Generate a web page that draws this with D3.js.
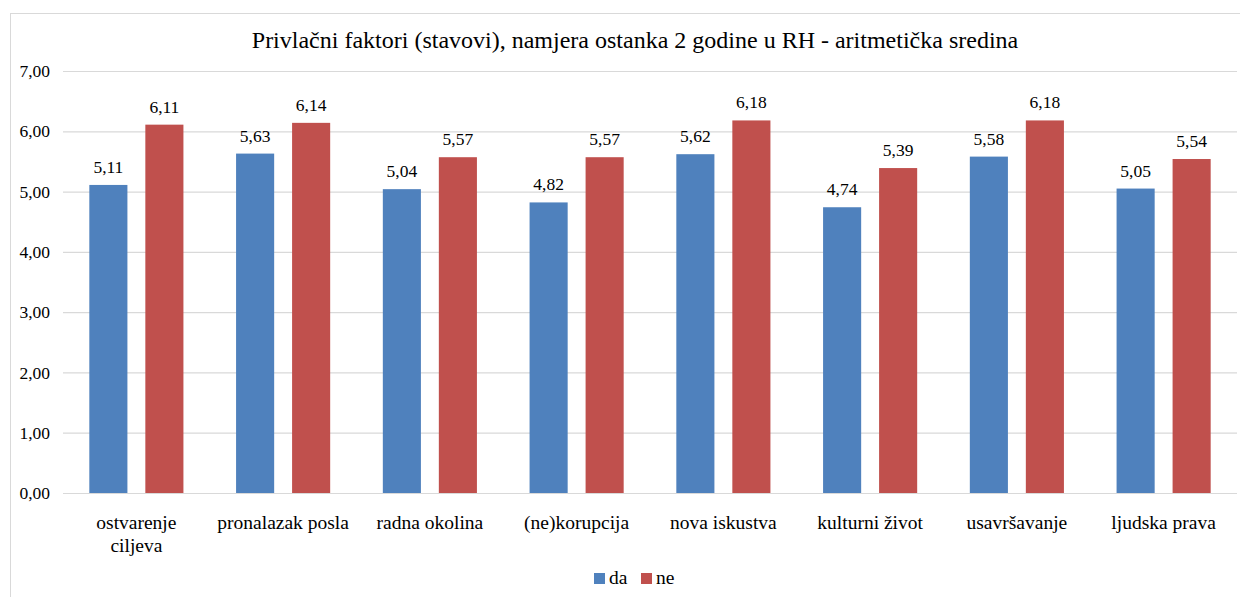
<!DOCTYPE html>
<html>
<head>
<meta charset="utf-8">
<script src="https://cdn.jsdelivr.net/npm/d3@7"></script>
<style>
  body { margin: 0; background: #fff; }
</style>
</head>
<body>
<script>
var width = 1240,
    height = 597;

var title = "Privlačni faktori (stavovi), namjera ostanka 2 godine u RH - aritmetička sredina";
var categories = [["ostvarenje", "ciljeva"], ["pronalazak posla"], ["radna okolina"], ["(ne)korupcija"],
                  ["nova iskustva"], ["kulturni život"], ["usavršavanje"], ["ljudska prava"]];
var seriesNames = ["da", "ne"];
var daValues = [5.11, 5.63, 5.04, 4.82, 5.62, 4.74, 5.58, 5.05];
var neValues = [6.11, 6.14, 5.57, 5.57, 6.18, 5.39, 6.18, 5.54];
var yTicks = [0, 1, 2, 3, 4, 5, 6, 7];
var colors = ["#4f81bd", "#c0504d"];

var serif = "'Liberation Serif', Tinos, 'Times New Roman', Times, 'DejaVu Serif', serif";

var rows = categories.map(function(c, i) {
  return { label: c, values: [daValues[i], neValues[i]] };
});

var margin = { left: 63, right: 3, top: 71, bottom: 104 };

var svg = d3.select("body")
            .append("svg")
            .attr("width", width)
            .attr("height", height)
            .style("font-family", serif);

// chart frame (only top and left edges fall inside the picture)
svg.append("rect")
   .attr("x", 10.5).attr("y", 13.5)
   .attr("width", 1240).attr("height", 600)
   .attr("fill", "none")
   .attr("stroke", "#d9d9d9");

var x0 = d3.scaleBand()
           .domain(d3.range(categories.length))
           .range([margin.left, width - margin.right]);

var x1 = d3.scaleBand()
           .domain([0, 1])
           .range([0, x0.bandwidth()])
           .paddingInner(0.32)
           .paddingOuter(0.47);

var y = d3.scaleLinear()
          .domain([0, 7])
          .range([height - margin.bottom, margin.top]);

var fmt = function(d) { return d3.format(".2f")(d).replace(".", ","); };

// gridlines + y labels
var yAxis = d3.axisLeft(y)
              .tickValues(yTicks)
              .tickSize(-(width - margin.left - margin.right))
              .tickPadding(13)
              .tickFormat(fmt);

var ga = svg.append("g")
   .attr("transform", "translate(" + margin.left + ",0)")
   .call(yAxis)
   .attr("font-family", null)
   .style("font-family", serif);
ga.select(".domain").remove();
ga.selectAll(".tick line").attr("stroke", "#d9d9d9").attr("stroke-width", 1.2);
ga.selectAll(".tick text")
  .style("font-size", "17.5px")
  .style("font-family", serif)
  .attr("fill", "#000");

// bars
var g = svg.selectAll("g.cat")
           .data(rows)
           .enter()
           .append("g")
           .attr("class", "cat")
           .attr("transform", function(d, i) {
               return "translate(" + x0(i) + ",0)";
           });

g.selectAll("rect")
 .data(function(d) { return d.values; })
 .enter()
 .append("rect")
 .attr("x", function(d, i) { return x1(i); })
 .attr("y", function(d) { return y(d); })
 .attr("width", x1.bandwidth())
 .attr("height", function(d) { return y(0) - y(d); })
 .attr("fill", function(d, i) { return colors[i]; });

g.selectAll("text.val")
 .data(function(d) { return d.values; })
 .enter()
 .append("text")
 .attr("class", "val")
 .attr("x", function(d, i) { return x1(i) + x1.bandwidth() / 2; })
 .attr("y", function(d) { return y(d) - 12; })
 .attr("text-anchor", "middle")
 .style("font-size", "17.5px")
 .text(function(d) { return fmt(d); });

// category labels
g.append("text")
 .attr("class", "cat-label")
 .attr("text-anchor", "middle")
 .style("font-size", "19.5px")
 .selectAll("tspan")
 .data(function(d) { return d.label; })
 .enter()
 .append("tspan")
 .attr("x", x0.bandwidth() / 2)
 .attr("y", function(d, i) { return 529 + i * 23; })
 .text(function(d) { return d; });

// title
svg.append("text")
   .attr("x", 635)
   .attr("y", 48)
   .attr("text-anchor", "middle")
   .style("font-size", "24px")
   .text(title);

// legend
var legend = svg.selectAll("g.legend")
                .data(seriesNames)
                .enter()
                .append("g")
                .attr("class", "legend")
                .attr("transform", function(d, i) {
                    return "translate(" + (594 + i * 47) + ",573)";
                });

legend.append("rect")
      .attr("width", 11)
      .attr("height", 11)
      .attr("fill", function(d, i) { return colors[i]; });

legend.append("text")
      .attr("x", 15)
      .attr("y", 11)
      .style("font-size", "19.5px")
      .text(function(d) { return d; });
</script>
</body>
</html>
